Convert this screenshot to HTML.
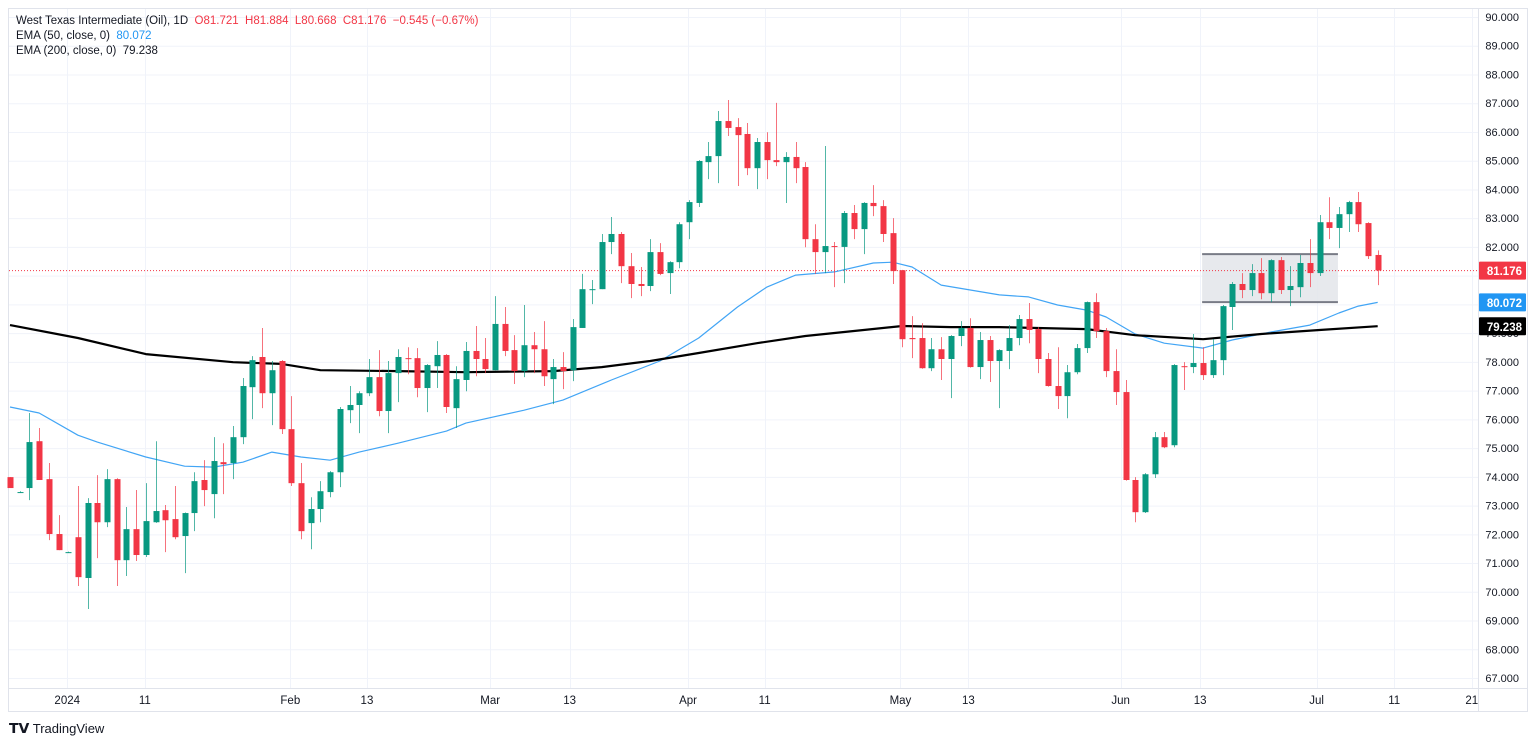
<!DOCTYPE html>
<html><head><meta charset="utf-8"><style>
html,body{margin:0;padding:0;background:#fff;width:1536px;height:744px;overflow:hidden;font-family:"Liberation Sans",sans-serif}
#hdr{position:absolute;left:16px;top:14px;font-size:11.5px;color:#131722;line-height:15px}
#logo{position:absolute;left:9px;top:720px;font-size:13px;color:#131722}
</style></head><body>
<svg id="chart" width="1536" height="744" style="position:absolute;left:0;top:0"></svg>
<div id="hdr">
<div>West Texas Intermediate (Oil), 1D&nbsp; <span style="color:#f23645">O81.721&nbsp; H81.884&nbsp; L80.668&nbsp; C81.176&nbsp; −0.545 (−0.67%)</span></div>
<div>EMA (50, close, 0)&nbsp; <span style="color:#2196f3">80.072</span></div>
<div>EMA (200, close, 0)&nbsp; 79.238</div>
</div>
<div id="logo"><b style="font-size:14px">𝗧𝗩</b> TradingView</div>
<script>
const opens=[73.99,73.47,73.61,75.24,73.92,72.01,71.38,71.90,70.48,73.09,72.42,73.92,71.10,72.18,71.28,72.42,72.84,72.53,71.94,72.74,73.89,73.40,74.51,74.48,75.38,77.12,78.17,76.91,78.03,75.66,73.78,72.39,72.88,73.47,74.16,76.32,76.50,76.91,77.47,76.29,77.61,78.13,78.13,77.09,77.85,78.24,76.39,77.37,78.38,78.10,77.71,79.32,78.41,77.68,78.58,78.44,77.40,77.82,77.71,79.18,80.50,80.53,82.17,82.45,81.33,80.71,80.64,81.82,81.09,81.47,82.86,83.53,84.95,85.16,86.38,86.17,85.93,84.74,85.65,85.02,84.95,85.13,84.78,82.27,81.82,82.03,82.00,83.18,82.62,83.53,83.42,82.48,81.19,78.83,78.83,77.78,78.44,78.10,78.90,79.18,77.82,78.76,78.03,78.38,78.83,79.49,79.14,78.10,77.16,76.81,77.64,78.48,80.08,79.07,77.68,76.95,73.89,72.77,74.09,75.38,75.10,77.85,77.82,77.96,77.54,78.06,79.91,80.71,80.50,81.09,80.39,81.54,80.50,80.60,81.44,81.09,82.86,82.66,83.14,83.56,82.83,81.72];
const highs=[73.99,73.50,76.22,75.70,74.48,72.67,71.40,73.68,73.26,74.06,74.27,73.95,72.95,73.54,73.78,75.24,73.02,73.68,72.76,74.16,74.58,75.38,75.17,75.77,77.44,78.20,79.18,78.03,78.06,76.81,74.48,73.29,73.85,74.20,76.43,77.16,76.98,78.10,78.41,78.03,78.44,78.51,78.48,77.92,78.72,78.27,77.85,78.69,79.25,78.83,80.29,79.91,78.93,79.98,79.04,79.42,78.10,78.34,79.49,81.06,80.85,82.45,83.04,82.52,81.79,81.30,82.27,82.13,81.50,82.86,83.63,85.02,85.65,86.73,87.11,86.48,86.31,85.79,85.99,87.01,85.30,85.65,84.95,82.79,85.51,82.17,83.25,83.46,83.56,84.15,83.63,83.00,81.20,79.59,79.35,78.83,78.86,78.93,79.42,79.52,79.04,78.90,78.44,79.28,79.63,80.05,79.21,78.31,78.51,77.89,78.62,80.10,80.39,79.18,78.44,77.37,73.99,74.13,75.56,75.56,77.92,77.99,78.97,78.51,78.79,79.98,80.78,81.09,81.40,81.61,81.57,81.65,81.33,81.72,82.27,83.11,83.73,83.39,83.60,83.91,82.86,81.88];
const lows=[73.61,73.44,73.19,73.89,71.80,71.45,71.36,70.20,69.40,71.17,72.25,70.20,70.55,71.07,71.21,72.40,71.38,71.83,70.65,72.11,72.98,72.56,73.40,73.92,75.14,76.01,76.39,75.80,75.49,73.68,71.83,71.48,72.42,73.29,73.64,75.87,75.52,76.81,76.11,75.52,76.60,77.57,76.77,76.25,77.09,76.22,75.70,76.98,77.50,77.61,77.71,78.20,77.23,77.47,77.61,77.16,76.53,77.05,77.33,79.18,80.01,80.53,81.75,80.74,80.22,80.29,80.46,81.02,80.36,81.26,82.27,83.39,84.36,84.22,85.86,84.12,84.50,84.01,84.36,84.81,83.53,84.22,81.99,81.06,81.09,80.60,80.74,82.27,81.75,83.07,82.17,80.71,78.51,78.13,77.76,77.68,77.37,76.74,78.55,77.80,77.40,77.30,76.39,77.75,78.58,78.65,77.61,77.14,76.36,76.04,77.57,78.31,78.83,77.47,76.50,73.87,72.42,72.74,73.96,75.00,75.03,77.02,77.61,77.37,77.44,77.54,79.11,80.22,80.29,80.18,80.08,80.36,79.94,80.25,80.60,80.99,82.27,81.96,82.52,82.52,81.58,80.67];
const closes=[73.61,73.47,75.21,73.89,72.01,71.45,71.38,70.51,73.09,72.42,73.92,71.10,72.18,71.28,72.46,72.81,72.49,71.90,72.74,73.85,73.54,74.55,74.44,75.38,77.16,78.06,76.91,77.71,75.66,73.78,72.11,72.88,73.50,74.16,76.36,76.50,76.91,77.47,76.29,77.61,78.17,78.10,77.09,77.89,78.24,76.43,77.40,78.38,78.10,77.75,79.32,78.38,77.68,78.58,78.44,77.50,77.82,77.68,79.21,80.53,80.53,82.17,82.45,81.33,80.71,80.64,81.82,81.06,81.47,82.79,83.56,84.99,85.16,86.38,86.14,85.89,84.74,85.65,85.02,84.95,85.13,84.74,82.27,81.82,82.03,82.00,83.18,82.62,83.53,83.42,82.45,81.16,78.79,78.79,77.78,78.44,78.10,78.90,79.18,77.82,78.76,78.03,78.41,78.83,79.49,79.11,78.10,77.16,76.81,77.64,78.48,80.08,79.07,77.68,76.95,73.89,72.77,74.09,75.38,75.03,77.89,77.82,77.96,77.54,78.06,79.94,80.71,80.50,81.09,80.39,81.54,80.50,80.64,81.44,81.09,82.86,82.66,83.14,83.56,82.79,81.68,81.18];
const ema50Idx=[0,3,7,9,14,18,21,24,27,30,33,36,40,45,47,53,57,62,67,71,75,78,81,85,89,91,93,96,102,105,108,111,113,116,119,123,126,130,134,137,139,141];
const ema50Val=[76.43,76.22,75.45,75.21,74.69,74.37,74.34,74.51,74.86,74.69,74.58,74.86,75.17,75.59,75.87,76.32,76.67,77.37,78.03,78.83,79.91,80.60,81.02,81.13,81.44,81.47,81.30,80.67,80.33,80.26,79.98,79.80,79.56,78.97,78.65,78.48,78.76,79.04,79.28,79.70,79.94,80.07];
const ema200Idx=[0,7,14,23,28,32,40,47,56,61,66,71,77,82,88,92,97,102,111,116,123,129,135,141];
const ema200Val=[79.28,78.83,78.27,77.99,77.93,77.71,77.68,77.64,77.68,77.82,78.03,78.31,78.65,78.90,79.11,79.25,79.21,79.21,79.14,78.93,78.79,78.97,79.11,79.24];
const priceTicks=[90,89,88,87,86,85,84,83,82,81,80,79,78,77,76,75,74,73,72,71,70,69,68,67];
const timeLabels=["2024","11","Feb","13","Mar","13","Apr","11","May","13","Jun","13","Jul","11","21"];
const timeIdx=[5.9,13.9,28.9,36.8,49.5,57.7,69.9,77.8,91.8,98.8,114.5,122.7,134.7,142.7,150.7];
const lastPrice=81.176, lastEma50=80.072, lastEma200=79.238;
const rangeTop=81.75, rangeBot=80.08, rangeI0=122.9, rangeI1=136.9;

const NS="http://www.w3.org/2000/svg";
const svg=document.getElementById('chart');
const X=i=>10+i*9.7;
const Y=p=>17+(90-p)*28.74;
function mk(t,a,parent){const e=document.createElementNS(NS,t);for(const k in a)e.setAttribute(k,a[k]);(parent||svg).appendChild(e);return e;}
// frame
let e=mk('rect',{x:8.5,y:8.5,width:1519,height:703,fill:'none',stroke:'#e0e3eb'});


// grid
const grid=mk('g',{});


priceTicks.forEach(p=>{mk('line',{x1:9,x2:1478,y1:Y(p)+.5,y2:Y(p)+.5,stroke:'#f0f3fa'},grid);});
timeIdx.forEach(i=>{mk('line',{x1:Math.round(X(i))+.5,x2:Math.round(X(i))+.5,y1:9,y2:688,stroke:'#f0f3fa'},grid);});
// axes lines
e=mk('line',{x1:1478.5,x2:1478.5,y1:9,y2:711,stroke:'#e0e3eb'});


e=mk('line',{x1:9,x2:1527,y1:688.5,y2:688.5,stroke:'#e0e3eb'});


// price ticks
const pax=mk('g',{'font-size':11,fill:'#131722','font-family':'Liberation Sans, sans-serif'});


priceTicks.forEach(p=>{const t=mk('text',{x:1519,y:Y(p)+4,'text-anchor':'end'},pax);t.textContent=p.toFixed(3);

});
const tax=mk('g',{'font-size':11.5,fill:'#131722','font-family':'Liberation Sans, sans-serif'});


timeLabels.forEach((s,k)=>{const t=mk('text',{x:X(timeIdx[k]),y:704,'text-anchor':'middle'},tax);t.textContent=s;

});
// range box
e=mk('rect',{x:X(rangeI0),y:Y(rangeTop),width:X(rangeI1)-X(rangeI0),height:Y(rangeBot)-Y(rangeTop),fill:'#e3e5ea',opacity:0.85});


[rangeTop,rangeBot].forEach(p=>{const l=mk('line',{x1:X(rangeI0),x2:X(rangeI1),y1:Y(p),y2:Y(p),stroke:'#787b86','stroke-width':2});

});
// last price line
e=mk('line',{x1:9,x2:1478,y1:Y(lastPrice),y2:Y(lastPrice),stroke:'#f23645','stroke-dasharray':'1 2'});


// EMAs
function pathOf(ix,vals){return ix.map((i,k)=>(k?'L':'M')+X(i).toFixed(1)+' '+Y(vals[k]).toFixed(1)).join(' ');}
e=mk('path',{d:pathOf(ema50Idx,ema50Val),fill:'none',stroke:'#42a5f5','stroke-width':1.2,'stroke-linejoin':'round'});


e=mk('path',{d:pathOf(ema200Idx,ema200Val),fill:'none',stroke:'#000','stroke-width':2.2,'stroke-linejoin':'round'});


// candles
const cg=mk('g',{});


opens.forEach((o,i)=>{
 const c=closes[i],up=c>=o,col=up?'#089981':'#f23645';
 const g=mk('g',{},cg);
 
 
 const x=Math.round(X(i));
 mk('line',{x1:x+.5,x2:x+.5,y1:Y(highs[i]),y2:Y(lows[i]),stroke:col,'stroke-opacity':0.7},g);
 const t=Y(Math.max(o,c)),b=Y(Math.min(o,c));
 mk('rect',{x:x-2.5,y:t,width:6,height:Math.max(1,b-t),fill:col},g);
});
// price labels
function tag(p,bg,name){const g=mk('g',{});
 
 
 mk('rect',{x:1479,y:Y(p)-9,width:47,height:18,fill:bg,rx:1},g);
 const t=mk('text',{x:1522,y:Y(p)+4.5,'text-anchor':'end','font-size':11.5,'font-weight':'bold',fill:'#fff','font-family':'Liberation Sans, sans-serif'},g);t.textContent=p.toFixed(3);}
tag(lastPrice,'#f23645','last-price-tag');
tag(lastEma50,'#2196f3','ema50-price-tag');
tag(lastEma200,'#000000','ema200-price-tag');
</script>
</body></html>
